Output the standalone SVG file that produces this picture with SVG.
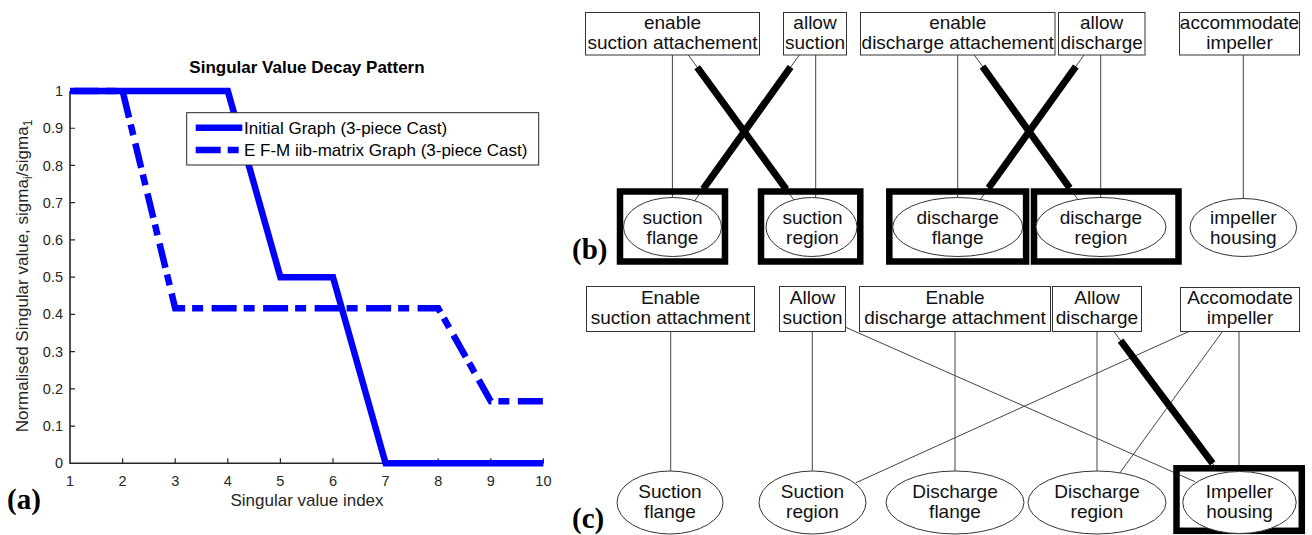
<svg xmlns="http://www.w3.org/2000/svg" width="1312" height="535" viewBox="0 0 1312 535">
<style>
.ax{fill:none;stroke:#262626;stroke-width:1.6}
.tk{stroke:#262626;stroke-width:1.2}
.tl{font-family:"Liberation Sans",Arial,sans-serif;font-size:14.5px;fill:#262626}
.lab{font-family:"Liberation Sans",Arial,sans-serif;font-size:17px;fill:#262626}
.ttl{font-family:"Liberation Sans",Arial,sans-serif;font-size:17px;font-weight:bold;fill:#000}
.leg{font-family:"Liberation Sans",Arial,sans-serif;font-size:17px;fill:#000}
.solid{fill:none;stroke:#0000ff;stroke-width:6.5;stroke-linejoin:miter}
.dash{fill:none;stroke:#0000ff;stroke-width:6.5;stroke-dasharray:25 7 11 8.5;stroke-linejoin:miter}
.pl{font-family:"Liberation Serif","Times New Roman",serif;font-size:29px;font-weight:bold;fill:#000}
.box{fill:#fff;stroke:#333;stroke-width:1}
.ell{fill:#fff;stroke:#333;stroke-width:1}
.hl{fill:none;stroke:#000;stroke-width:6.5}
.nt{font-family:"Liberation Sans",Arial,sans-serif;font-size:19px;fill:#111;text-anchor:middle}
.thin{stroke:#444;stroke-width:1;fill:none}
.thick{stroke:#000;stroke-width:7;fill:none;stroke-linecap:butt}
</style>
<rect width="1312" height="535" fill="#fff"/>

<!-- (a) plot -->
<g id="plot-a">
  <text class="ttl" x="307" y="73" text-anchor="middle">Singular Value Decay Pattern</text>
  <path class="ax" d="M70,91 V463.3 H543.4"/>
  <g class="tk">
    <path d="M70,426.07h5M70,388.84h5M70,351.61h5M70,314.38h5M70,277.15h5M70,239.92h5M70,202.69h5M70,165.46h5M70,128.23h5M70,91h5"/>
    <path d="M122.6,463.3v-5M175.2,463.3v-5M227.8,463.3v-5M280.4,463.3v-5M333,463.3v-5M385.6,463.3v-5M438.2,463.3v-5M490.8,463.3v-5M543.4,463.3v-5"/>
  </g>
  <g class="tl" text-anchor="end">
    <text x="63" y="468.3">0</text>
    <text x="63" y="431.1">0.1</text>
    <text x="63" y="393.8">0.2</text>
    <text x="63" y="356.6">0.3</text>
    <text x="63" y="319.4">0.4</text>
    <text x="63" y="282.2">0.5</text>
    <text x="63" y="244.9">0.6</text>
    <text x="63" y="207.7">0.7</text>
    <text x="63" y="170.5">0.8</text>
    <text x="63" y="133.2">0.9</text>
    <text x="63" y="96">1</text>
  </g>
  <g class="tl" text-anchor="middle">
    <text x="70" y="486">1</text>
    <text x="122.6" y="486">2</text>
    <text x="175.2" y="486">3</text>
    <text x="227.8" y="486">4</text>
    <text x="280.4" y="486">5</text>
    <text x="333" y="486">6</text>
    <text x="385.6" y="486">7</text>
    <text x="438.2" y="486">8</text>
    <text x="490.8" y="486">9</text>
    <text x="543.4" y="486">10</text>
  </g>
  <text class="lab" x="307" y="506" text-anchor="middle">Singular value index</text>
  <text class="lab" transform="translate(28,276) rotate(-90)" text-anchor="middle">Normalised Singular value, sigma<tspan font-size="12" dy="4">i</tspan><tspan dy="-4">/sigma</tspan><tspan font-size="12" dy="4">1</tspan></text>
  <path class="solid" d="M70,91 H227.8 L280.4,277.15 H333 L385.6,463.3 H543.4"/>
  <path class="dash" style="stroke-dashoffset:48" d="M70,91 H122.6 L175.2,308.2 H438.2 L490.8,401.24 H543.4"/>
  <g id="legend">
    <rect x="186.7" y="112.7" width="352" height="52.3" fill="#fff" stroke="#262626" stroke-width="1"/>
    <path class="solid" d="M195.7,127.7 H242.3"/>
    <path class="dash" d="M195.7,150 H242.3"/>
    <text class="leg" x="244" y="133.7">Initial Graph (3-piece Cast)</text>
    <text class="leg" x="244" y="156">E F-M iib-matrix Graph (3-piece Cast)</text>
  </g>
  <text class="pl" x="7" y="509">(a)</text>
</g>

<!-- (b) and (c) connectors -->
<g id="connectors">
  <!-- (b) -->
  <path class="thin" d="M672.4,55 V198"/>
  <path class="thin" d="M815.7,55 V198"/>
  <path class="thin" d="M957.7,55 V197"/>
  <path class="thin" d="M1100.7,55 V198"/>
  <path class="thin" d="M1243.3,55 V198"/>
  <path class="thin" d="M688.3,55 L794,200"/>
  <path class="thick" d="M697.2,67.2 L786.2,189.2"/>
  <path class="thin" d="M799.3,55 L694,201.7"/>
  <path class="thick" d="M790.6,67 L703.2,189"/>
  <path class="thin" d="M974.3,55 L1078.3,200"/>
  <path class="thick" d="M982.5,66.5 L1069.7,188"/>
  <path class="thin" d="M1084,55 L980,200"/>
  <path class="thick" d="M1075.8,66.5 L988.6,188"/>
  <!-- (c) -->
  <path class="thin" d="M670.7,331.7 V471.5"/>
  <path class="thin" d="M812.3,331.7 V471.5"/>
  <path class="thin" d="M955,331.7 V471.5"/>
  <path class="thin" d="M1097,331.7 V471.5"/>
  <path class="thin" d="M1239,331.7 V471"/>
  <path class="thin" d="M845.7,327.3 L1195,481.7"/>
  <path class="thin" d="M1190,331 L856,482.7"/>
  <path class="thin" d="M1222.3,331.7 L1120,472.7"/>
  <path class="thin" d="M1114,331.7 L1218.3,471"/>
  <path class="thick" d="M1120.6,340.6 L1212.6,463.4"/>
</g>

<!-- (b) nodes -->
<g id="b-enable-suction-attachement">
  <rect class="box" x="585.5" y="12.5" width="174" height="42.5"/>
  <text class="nt" x="672.5" y="28.5">enable</text>
  <text class="nt" x="672.5" y="48.5">suction attachement</text>
</g>
<g id="b-allow-suction">
  <rect class="box" x="783.5" y="12.5" width="63" height="42.5"/>
  <text class="nt" x="815" y="28.5">allow</text>
  <text class="nt" x="815" y="48.5">suction</text>
</g>
<g id="b-enable-discharge-attachement">
  <rect class="box" x="860.5" y="12.5" width="194.5" height="42.5"/>
  <text class="nt" x="957.7" y="28.5">enable</text>
  <text class="nt" x="957.7" y="48.5">discharge attachement</text>
</g>
<g id="b-allow-discharge">
  <rect class="box" x="1058.5" y="12.5" width="86.5" height="42.5"/>
  <text class="nt" x="1101.7" y="28.5">allow</text>
  <text class="nt" x="1101.7" y="48.5">discharge</text>
</g>
<g id="b-accommodate-impeller">
  <rect class="box" x="1179.5" y="12.5" width="120" height="42.5"/>
  <text class="nt" x="1239.5" y="28.5">accommodate</text>
  <text class="nt" x="1239.5" y="48.5">impeller</text>
</g>
<g id="b-suction-flange">
  <rect class="hl" x="620" y="191.5" width="105" height="70"/>
  <ellipse class="ell" cx="672.5" cy="227" rx="49" ry="29.5"/>
  <text class="nt" x="672.5" y="224">suction</text>
  <text class="nt" x="672.5" y="244">flange</text>
</g>
<g id="b-suction-region">
  <rect class="hl" x="761" y="191.5" width="99.3" height="70"/>
  <ellipse class="ell" cx="811.5" cy="227" rx="45.5" ry="29.5"/>
  <text class="nt" x="812.5" y="224">suction</text>
  <text class="nt" x="812.5" y="244">region</text>
</g>
<g id="b-discharge-flange">
  <rect class="hl" x="889.3" y="191.5" width="136.8" height="70"/>
  <ellipse class="ell" cx="957.7" cy="227" rx="65" ry="29.5"/>
  <text class="nt" x="957.7" y="224">discharge</text>
  <text class="nt" x="957.7" y="244">flange</text>
</g>
<g id="b-discharge-region">
  <rect class="hl" x="1034" y="191.5" width="144.5" height="70"/>
  <ellipse class="ell" cx="1101" cy="227" rx="65" ry="29.5"/>
  <text class="nt" x="1101" y="224">discharge</text>
  <text class="nt" x="1101" y="244">region</text>
</g>
<g id="b-impeller-housing">
  <ellipse class="ell" cx="1243.3" cy="227.5" rx="53.3" ry="29"/>
  <text class="nt" x="1243.3" y="224">impeller</text>
  <text class="nt" x="1243.3" y="244">housing</text>
</g>
<text class="pl" x="572" y="259">(b)</text>

<!-- (c) nodes -->
<g id="c-enable-suction-attachment">
  <rect class="box" x="586.5" y="286.5" width="168" height="45"/>
  <text class="nt" x="670.5" y="303.5">Enable</text>
  <text class="nt" x="670.5" y="323.5">suction attachment</text>
</g>
<g id="c-allow-suction">
  <rect class="box" x="779.5" y="286.5" width="66" height="45"/>
  <text class="nt" x="812.5" y="303.5">Allow</text>
  <text class="nt" x="812.5" y="323.5">suction</text>
</g>
<g id="c-enable-discharge-attachment">
  <rect class="box" x="859.5" y="286.5" width="191" height="45"/>
  <text class="nt" x="955" y="303.5">Enable</text>
  <text class="nt" x="955" y="323.5">discharge attachment</text>
</g>
<g id="c-allow-discharge">
  <rect class="box" x="1052.5" y="286.5" width="89" height="45"/>
  <text class="nt" x="1097" y="303.5">Allow</text>
  <text class="nt" x="1097" y="323.5">discharge</text>
</g>
<g id="c-accomodate-impeller">
  <rect class="box" x="1180.5" y="287.5" width="119" height="44"/>
  <text class="nt" x="1240" y="303.5">Accomodate</text>
  <text class="nt" x="1240" y="323.5">impeller</text>
</g>
<g id="c-suction-flange">
  <ellipse class="ell" cx="670" cy="502.5" rx="53" ry="31.5"/>
  <text class="nt" x="670" y="497.5">Suction</text>
  <text class="nt" x="670" y="517.5">flange</text>
</g>
<g id="c-suction-region">
  <ellipse class="ell" cx="812.5" cy="502.5" rx="53.5" ry="31.5"/>
  <text class="nt" x="812.5" y="497.5">Suction</text>
  <text class="nt" x="812.5" y="517.5">region</text>
</g>
<g id="c-discharge-flange">
  <ellipse class="ell" cx="955" cy="502.5" rx="69" ry="31.5"/>
  <text class="nt" x="955" y="497.5">Discharge</text>
  <text class="nt" x="955" y="517.5">flange</text>
</g>
<g id="c-discharge-region">
  <ellipse class="ell" cx="1097" cy="502.5" rx="69" ry="31.5"/>
  <text class="nt" x="1097" y="497.5">Discharge</text>
  <text class="nt" x="1097" y="517.5">region</text>
</g>
<g id="c-impeller-housing">
  <rect class="hl" x="1176.5" y="468.3" width="125.3" height="62.5"/>
  <ellipse class="ell" cx="1239.5" cy="502.5" rx="56.7" ry="31"/>
  <text class="nt" x="1239.5" y="497.5">Impeller</text>
  <text class="nt" x="1239.5" y="517.5">housing</text>
</g>
<text class="pl" x="572" y="528">(c)</text>
</svg>
